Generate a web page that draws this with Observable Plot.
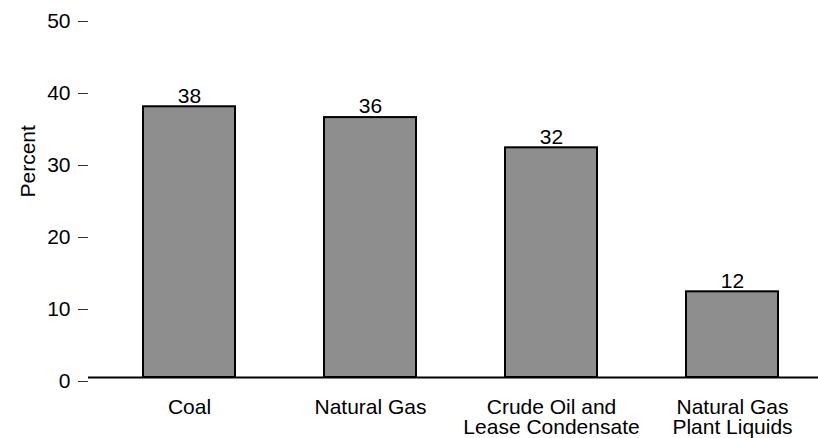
<!DOCTYPE html>
<html>
<head>
<meta charset="utf-8">
<script src="https://cdn.jsdelivr.net/npm/d3@7"></script>
<script src="https://cdn.jsdelivr.net/npm/@observablehq/plot@0.6"></script>
<style>
  html, body { margin: 0; padding: 0; background: #fff; }
  #chart { width: 818px; height: 438px; }
</style>
</head>
<body>
<div id="chart"></div>
<script>
const categories = ["Coal", "Natural Gas", "Crude Oil and Lease Condensate", "Natural Gas Plant Liquids"];
const tickLabels = ["Coal", "Natural Gas", "Crude Oil and\nLease Condensate", "Natural Gas\nPlant Liquids"];
const values = [37.6, 36.1, 31.9, 11.9];
const valueLabels = ["38", "36", "32", "12"];
const yTicks = [0, 10, 20, 30, 40, 50];
const yTitle = "Percent";

const data = categories.map((c, i) => ({category: c, value: values[i], label: valueLabels[i]}));
const tickMap = new Map(categories.map((c, i) => [c, tickLabels[i]]));

const chart = Plot.plot({
  width: 818,
  height: 438,
  marginLeft: 88,
  marginRight: 0,
  marginTop: 17,
  marginBottom: 61,
  style: {fontFamily: "'Liberation Sans', Arial, Helvetica, sans-serif", fontSize: "21px", color: "#000", background: "#fff"},
  x: {domain: categories, paddingInner: 0.492, paddingOuter: 0.2625, align: 0.579},
  y: {domain: [0, 50]},
  marks: [
    Plot.barY(data, {x: "category", y: "value", fill: "#8e8e8e", stroke: "#000", strokeWidth: 2}),
    Plot.ruleY([0], {stroke: "#000", strokeWidth: 2}),
    Plot.text(data, {x: "category", y: "value", text: "label", dy: -11, fill: "#000"}),
    Plot.axisY({ticks: yTicks, tickSize: 10, tickPadding: 8, label: null, dy: 4, stroke: "#333"}),
    Plot.axisX({tickSize: 0, tickPadding: 23, label: null, tickFormat: d => tickMap.get(d), lineHeight: 0.92}),
    Plot.text([yTitle], {frameAnchor: "left", rotate: -90, dx: -60, fill: "#000"})
  ]
});
document.getElementById("chart").appendChild(chart);
</script>
</body>
</html>
